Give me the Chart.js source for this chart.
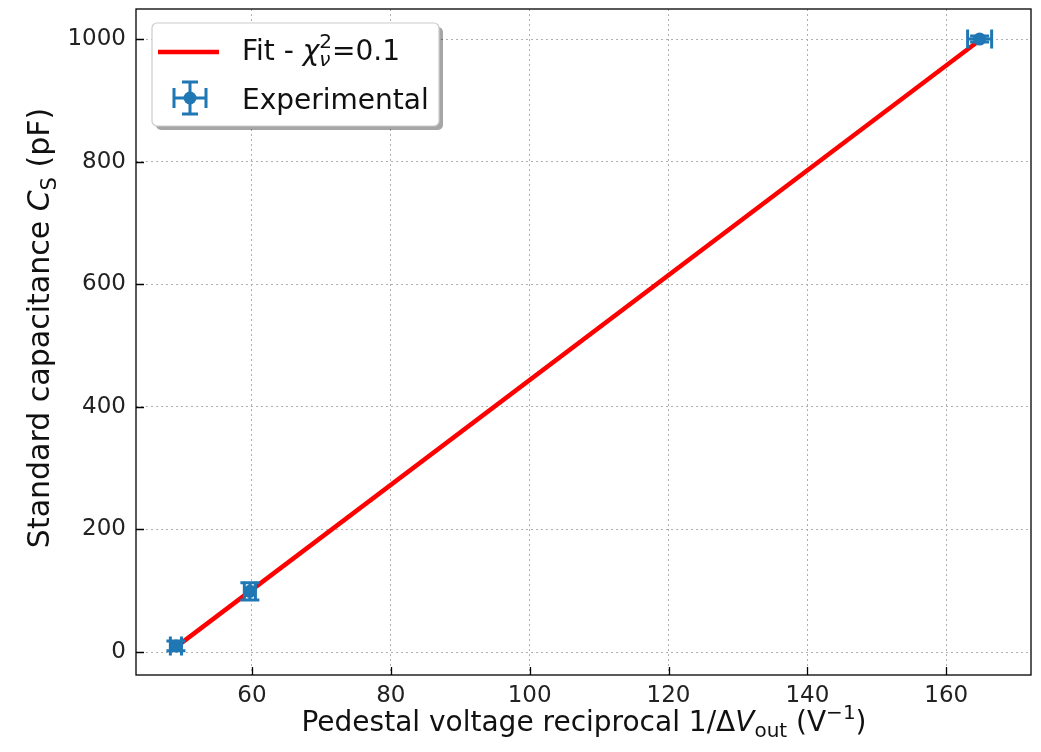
<!DOCTYPE html>
<html>
<head>
<meta charset="utf-8">
<script src="https://cdn.jsdelivr.net/npm/chart.js@4"></script>
<style>
  html, body { margin: 0; padding: 0; background: #fff; }
  #wrap { width: 1041px; height: 752px; position: relative; }
</style>
</head>
<body>
<div id="wrap"><canvas id="fitChart"></canvas></div>
<script>
"use strict";

// measured points (1/dV in V^-1, Cs in pF)
const X_VALUES = [49.05, 59.7, 164.8];
const Y_VALUES = [10, 99, 1000];
const X_ERRORS = [0.8, 0.8, 1.73];
const Y_ERRORS = [8, 14, 5];

// linear fit, drawn between first and last point
const FIT_X = [49.05, 164.8];
const FIT_Y = [8, 998];

const X_TICKS = [60, 80, 100, 120, 140, 160];
const Y_TICKS = [0, 200, 400, 600, 800, 1000];

const FONT = "'DejaVu Sans', sans-serif";
const BLUE = "#1f77b4";
const RED = "#ff0000";
const CAP = 9.5;

// draws a run of text pieces with italics / sub / superscripts
function drawRich(ctx, parts, x, y, size, align) {
  const small = Math.round(size * 0.7);
  const fontOf = (p) =>
    (p.it ? "italic " : "") + (p.sub || p.sup ? small : size) + "px " + FONT;

  let total = 0;
  let pending = 0;
  const widths = parts.map((p) => {
    ctx.font = fontOf(p);
    return ctx.measureText(p.t).width;
  });
  parts.forEach((p, i) => {
    if (p.keep) { pending = widths[i]; return; }
    total += Math.max(pending, widths[i]);
    pending = 0;
  });

  let cx = align === "center" ? x - total / 2 : x;
  pending = 0;
  ctx.textBaseline = "alphabetic";
  ctx.textAlign = "left";
  parts.forEach((p, i) => {
    ctx.font = fontOf(p);
    let dy = 0;
    if (p.sub) dy = size * 0.22;
    if (p.sup) dy = -size * 0.42;
    ctx.fillText(p.t, cx, y + dy);
    if (p.keep) { pending = widths[i]; return; }
    cx += Math.max(pending, widths[i]);
    pending = 0;
  });
}

function drawErrBar(ctx, x0, y0, x1, y1, cap, vertical) {
  ctx.beginPath();
  ctx.moveTo(x0, y0);
  ctx.lineTo(x1, y1);
  if (vertical) {
    ctx.moveTo(x0 - cap, y0); ctx.lineTo(x0 + cap, y0);
    ctx.moveTo(x1 - cap, y1); ctx.lineTo(x1 + cap, y1);
  } else {
    ctx.moveTo(x0, y0 - cap); ctx.lineTo(x0, y0 + cap);
    ctx.moveTo(x1, y1 - cap); ctx.lineTo(x1, y1 + cap);
  }
  ctx.stroke();
}

const errorBarPlugin = {
  id: "errorBars",
  afterDatasetsDraw(chart) {
    const { ctx, scales: { x, y } } = chart;
    ctx.save();
    ctx.strokeStyle = BLUE;
    ctx.lineWidth = 3;
    X_VALUES.forEach((xv, i) => {
      const yv = Y_VALUES[i];
      const py = y.getPixelForValue(yv);
      const px = x.getPixelForValue(xv);
      drawErrBar(ctx, x.getPixelForValue(xv - X_ERRORS[i]), py,
        x.getPixelForValue(xv + X_ERRORS[i]), py, CAP, false);
      drawErrBar(ctx, px, y.getPixelForValue(yv - Y_ERRORS[i]),
        px, y.getPixelForValue(yv + Y_ERRORS[i]), CAP, true);
    });
    ctx.restore();
  },
};

const framePlugin = {
  id: "frame",
  afterDraw(chart) {
    const { ctx, chartArea: a, scales: { x, y } } = chart;
    ctx.save();
    ctx.strokeStyle = "#000";
    ctx.lineWidth = 1.3;
    ctx.strokeRect(a.left, a.top, a.right - a.left, a.bottom - a.top);

    // inward ticks on left and bottom
    ctx.beginPath();
    X_TICKS.forEach((v) => {
      const px = Math.round(x.getPixelForValue(v)) + 0.5;
      ctx.moveTo(px, a.bottom);
      ctx.lineTo(px, a.bottom - 8);
    });
    Y_TICKS.forEach((v) => {
      const py = Math.round(y.getPixelForValue(v)) + 0.5;
      ctx.moveTo(a.left, py);
      ctx.lineTo(a.left + 8, py);
    });
    ctx.stroke();

    // axis titles
    ctx.fillStyle = "#111";
    drawRich(ctx, [
      { t: "Pedestal voltage reciprocal 1/\u0394" },
      { t: "V", it: true },
      { t: "out", sub: true },
      { t: " (V" },
      { t: "\u22121", sup: true },
      { t: ")" },
    ], 584, 731, 28, "center");

    ctx.translate(49, 328);
    ctx.rotate(-Math.PI / 2);
    drawRich(ctx, [
      { t: "Standard capacitance " },
      { t: "C", it: true },
      { t: "S", sub: true },
      { t: " (pF)" },
    ], 0, 0, 30, "center");
    ctx.restore();

    drawLegend(ctx);
  },
};

function drawLegend(ctx) {
  const bx = 152, by = 23, bw = 287, bh = 103;
  ctx.save();
  ctx.fillStyle = "rgba(0,0,0,0.35)";
  ctx.beginPath();
  ctx.roundRect(bx + 4, by + 4, bw, bh, 5);
  ctx.fill();
  ctx.fillStyle = "#fff";
  ctx.strokeStyle = "#cccccc";
  ctx.lineWidth = 1.2;
  ctx.beginPath();
  ctx.roundRect(bx, by, bw, bh, 5);
  ctx.fill();
  ctx.stroke();

  ctx.strokeStyle = RED;
  ctx.lineWidth = 4.5;
  ctx.beginPath();
  ctx.moveTo(158, 52);
  ctx.lineTo(219, 52);
  ctx.stroke();

  ctx.strokeStyle = BLUE;
  ctx.lineWidth = 3;
  drawErrBar(ctx, 174, 98, 206, 98, 10, false);
  drawErrBar(ctx, 190, 82, 190, 114, 8, true);
  ctx.fillStyle = BLUE;
  ctx.beginPath();
  ctx.arc(190, 98, 6.5, 0, Math.PI * 2);
  ctx.fill();

  ctx.fillStyle = "#111";
  drawRich(ctx, [
    { t: "Fit - " },
    { t: "\u03c7", it: true },
    { t: "2", sup: true, keep: true },
    { t: "\u03bd", sub: true, it: true },
    { t: "=0.1" },
  ], 242, 60, 28, "left");
  drawRich(ctx, [{ t: "Experimental" }], 242, 109, 28, "left");
  ctx.restore();
}

const tickFont = { family: FONT, size: 23 };

new Chart(document.getElementById("fitChart"), {
  type: "scatter",
  plugins: [errorBarPlugin, framePlugin],
  data: {
    datasets: [
      {
        label: "Experimental",
        data: X_VALUES.map((v, i) => ({ x: v, y: Y_VALUES[i] })),
        backgroundColor: BLUE,
        borderWidth: 0,
        pointRadius: 6.5,
        order: 0,
      },
      {
        label: "Fit",
        data: FIT_X.map((v, i) => ({ x: v, y: FIT_Y[i] })),
        showLine: true,
        borderColor: RED,
        borderWidth: 4.5,
        pointRadius: 0,
        order: 1,
      },
    ],
  },
  options: {
    responsive: true,
    maintainAspectRatio: false,
    animation: false,
    layout: { padding: { top: 9, right: 10, left: 0, bottom: 0 } },
    plugins: { legend: { display: false }, tooltip: { enabled: false } },
    scales: {
      x: {
        type: "linear",
        min: 43.3,
        max: 172.2,
        afterBuildTicks: (s) => { s.ticks = X_TICKS.map((v) => ({ value: v })); },
        afterFit: (s) => { s.height = 77; s.paddingLeft = 0; s.paddingRight = 0; },
        grid: { color: "#b0b0b0", lineWidth: 1, drawTicks: false },
        border: { display: false, dash: [2, 3] },
        ticks: { color: "#222", font: tickFont, padding: 7, maxRotation: 0, callback: (v) => String(v) },
      },
      y: {
        type: "linear",
        min: -37.5,
        max: 1049,
        afterBuildTicks: (s) => { s.ticks = Y_TICKS.map((v) => ({ value: v })); },
        afterFit: (s) => { s.width = 136; s.paddingTop = 0; s.paddingBottom = 0; },
        grid: { color: "#b0b0b0", lineWidth: 1, drawTicks: false },
        border: { display: false, dash: [2, 3] },
        ticks: { color: "#222", font: tickFont, padding: 10, callback: (v) => String(v) },
      },
    },
  },
});
</script>
</body>
</html>
